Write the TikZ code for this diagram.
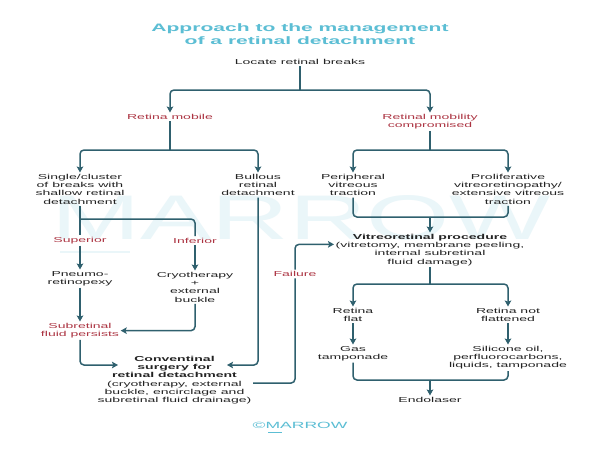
\documentclass[tikz,border=0pt]{standalone}
\usepackage{fontspec}
\setmainfont{Liberation Sans}[FakeStretch=1.95]
\newfontfamily\wmfont{Liberation Sans}[FakeStretch=1.7]
\usetikzlibrary{arrows.meta}

\definecolor{arrowcol}{RGB}{47,96,110}
\definecolor{redlbl}{RGB}{172,52,66}
\definecolor{titlecol}{RGB}{92,190,212}
\definecolor{wmcol}{RGB}{234,246,249}
\definecolor{textcol}{RGB}{35,35,35}

\begin{document}
\begin{tikzpicture}[x=1pt,y=-1pt,
    txt/.style={font=\fontsize{7.2}{8.2}\selectfont, text=textcol, align=center,
      inner sep=1.5pt, anchor=north},
    lbl/.style={txt, text=redlbl},
    conn/.style={draw=arrowcol, line width=1.5pt, rounded corners=4pt},
    flow/.style={conn, -{Stealth[length=6pt,width=6.5pt,inset=1.2pt]}}]
  \useasboundingbox[fill=white] (0,0) rectangle (600,450);

  % watermark
  \node[inner sep=0, text=wmcol, font=\wmfont\fontsize{63}{63}\selectfont] (wm) at (301,217.5) {MARROW};
  \draw[wmcol, line width=1.5pt] (60,252) -- (130,252);

  % title
  \node[anchor=north, align=center, text=titlecol,
    font=\bfseries\fontsize{10.8}{12.4}\selectfont] (title) at (300,20.5)
    {Approach to the management\\of a retinal detachment};

  % nodes
  \node[txt] (locate) at (300,57.5) {Locate retinal breaks};
  \node[lbl] (mobile) at (170,112.5) {Retina mobile};
  \node[lbl] (compromised) at (430,112.5) {Retinal mobility\\compromised};

  \node[txt] (single) at (80,172.5) {Single/cluster\\of breaks with\\shallow retinal\\detachment};
  \node[txt] (bullous) at (258,172.5) {Bullous\\retinal\\detachment};
  \node[txt] (peripheral) at (353,172.5) {Peripheral\\vitreous\\traction};
  \node[txt] (pvr) at (508,172.5) {Proliferative\\vitreoretinopathy/\\extensive vitreous\\traction};

  \node[lbl, anchor=center] (superior) at (80,240.5) {Superior};
  \node[lbl, anchor=center] (inferior) at (195,240.5) {Inferior};
  \node[txt] (pneumo) at (80,269.5) {Pneumo-\\retinopexy};
  \node[txt] (cryo) at (195,270.5) {Cryotherapy\\+\\external\\buckle};
  \node[lbl] (subret) at (80,321.5) {Subretinal\\fluid persists};
  \node[txt] (conv) at (174.5,354.5) {\textbf{Conventinal}\\\textbf{surgery for}\\\textbf{retinal detachment}\\(cryotherapy, external\\buckle, encirclage and\\subretinal fluid drainage)};

  \node[txt] (vitreo) at (430,232.5) {\textbf{Vitreoretinal procedure}\\(vitretomy, membrane peeling,\\internal subretinal\\fluid damage)};
  \node[lbl, anchor=center] (failure) at (295,274) {Failure};
  \node[txt] (flat) at (353,306.5) {Retina\\flat};
  \node[txt] (notflat) at (508,306.5) {Retina not\\flattened};
  \node[txt] (gas) at (353,344.5) {Gas\\tamponade};
  \node[txt] (silicone) at (508,344.5) {Silicone oil,\\perfluorocarbons,\\liquids, tamponade};
  \node[txt] (endolaser) at (430,395.5) {Endolaser};

  % logo
  \node[text=titlecol, font=\fontsize{9}{10}\selectfont] (logo) at (300,425) {©MARROW};
  \draw[titlecol, line width=0.8pt] (268,432) -- (282,432);

  % junctions
  \coordinate (b1) at (300,90);
  \coordinate (b2) at (170,150);
  \coordinate (b3) at (430,150);
  \coordinate (j1) at (80,219);
  \coordinate (b4) at (430,217);
  \coordinate (b5) at (430,284);
  \coordinate (b6) at (430,380);
  \coordinate (convL) at (118,365);
  \coordinate (convR) at (227,365);

  % connectors
  \draw[conn] (locate) -- (b1);
  \draw[flow] (b1) -| (mobile);
  \draw[flow] (b1) -| (compromised);

  \draw[conn] (mobile) -- (b2);
  \draw[flow] (b2) -| (single);
  \draw[flow] (b2) -| (bullous);

  \draw[conn] (compromised) -- (b3);
  \draw[flow] (b3) -| (peripheral);
  \draw[flow] (b3) -| (pvr);

  \draw[conn] (single) -- (superior);
  \draw[flow] (superior) -- (pneumo);
  \draw[conn] (j1) -| (inferior);
  \draw[flow] (inferior) -- (cryo);
  \draw[flow] (pneumo) -- (subret);
  \draw[flow] (cryo) |- (subret);
  \draw[flow] (subret) |- (convL);
  \draw[flow] (bullous) |- (convR);

  \draw[conn] ([yshift=-3pt]conv.east) -| (failure);
  \draw[flow] (failure) |- ([yshift=5.5pt]vitreo.west);

  \draw[conn] (peripheral) |- (b4);
  \draw[conn] (pvr) |- (b4);
  \draw[flow] (b4) -- (vitreo);

  \draw[conn] (vitreo) -- (b5);
  \draw[flow] (b5) -| (flat);
  \draw[flow] (b5) -| (notflat);
  \draw[flow] (flat) -- (gas);
  \draw[flow] (notflat) -- (silicone);

  \draw[conn] (gas) |- (b6);
  \draw[conn] (silicone) |- (b6);
  \draw[flow] (b6) -- (endolaser);
\end{tikzpicture}
\end{document}
